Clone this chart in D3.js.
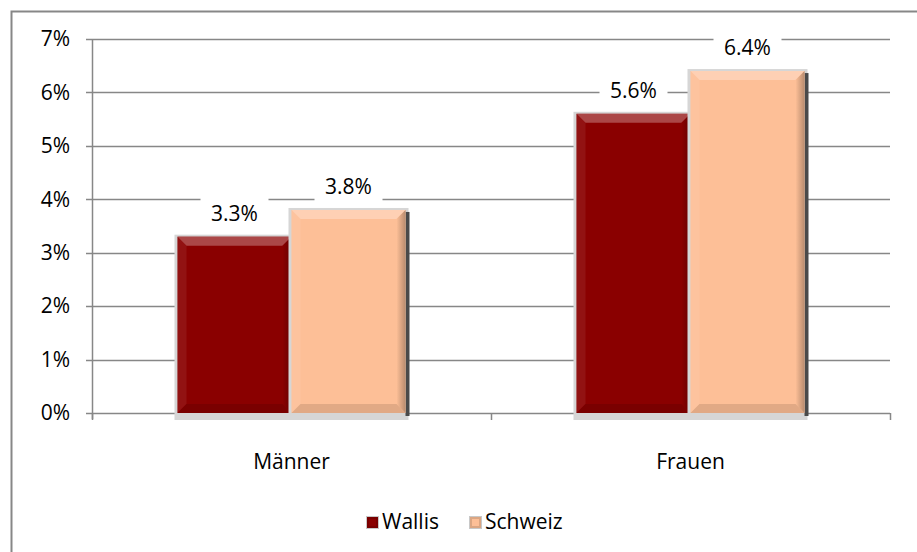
<!DOCTYPE html>
<html>
<head>
<meta charset="utf-8">
<script src="https://cdn.jsdelivr.net/npm/d3@7"></script>
<style>
  body { margin: 0; background: #fff; }
  text { font-family: "Open Sans", sans-serif; fill: #000; }
</style>
</head>
<body>
<div id="chart"></div>
<script>
// data
var categories = ["Männer", "Frauen"];
var seriesNames = ["Wallis", "Schweiz"];
var wallis = [3.3, 5.6];
var schweiz = [3.8, 6.4];
var yTicks = [0, 1, 2, 3, 4, 5, 6, 7];
var colors = ["#8a0000", "#fdbf97"];

var W = 917, H = 552;
var margin = { top: 39, right: 27, bottom: 139, left: 92 },
    width = W - margin.left - margin.right,
    height = H - margin.top - margin.bottom;
var fs = "21px";

var svg = d3.select("#chart")
    .append("svg")
    .attr("width", W)
    .attr("height", H);

// outer frame
svg.append("rect")
    .attr("x", 11.5).attr("y", 11.5)
    .attr("width", W + 10).attr("height", H + 10)
    .attr("fill", "none")
    .attr("stroke", "#878787")
    .attr("stroke-width", 2);

var g = svg.append("g")
    .attr("transform", "translate(" + margin.left + "," + margin.top + ")");

var x = d3.scaleBand().domain(categories).range([0, width]);
var xs = d3.scaleBand().domain(seriesNames)
    .range([0, x.bandwidth()])
    .paddingInner(0)
    .paddingOuter(0.75);
var y = d3.scaleLinear().domain([0, 7]).range([height, 0]);

// gridlines
g.selectAll(".grid")
    .data(yTicks)
    .enter().append("line")
    .attr("x1", -6).attr("x2", width)
    .attr("y1", function (d) { return Math.round(y(d)) + 0.5; })
    .attr("y2", function (d) { return Math.round(y(d)) + 0.5; })
    .attr("stroke", "#878787")
    .attr("stroke-width", 1.5);

// y axis line
g.append("line")
    .attr("x1", 0.5).attr("x2", 0.5)
    .attr("y1", 0).attr("y2", height + 6)
    .attr("stroke", "#878787").attr("stroke-width", 1.5);

// y tick labels
g.selectAll(".ylab")
    .data(yTicks)
    .enter().append("text")
    .attr("x", -22)
    .attr("y", function (d) { return y(d); })
    .attr("dy", "0.35em")
    .attr("text-anchor", "end")
    .style("font-size", fs)
    .text(function (d) { return d + "%"; });

// x tick marks
var xTickPos = [0].concat(categories.map(function (c) { return x(c) + x.bandwidth(); }));
g.selectAll(".xtick")
    .data(xTickPos)
    .enter().append("line")
    .attr("x1", function (d) { return Math.round(d) + 0.5; })
    .attr("x2", function (d) { return Math.round(d) + 0.5; })
    .attr("y1", height).attr("y2", height + 7)
    .attr("stroke", "#878787").attr("stroke-width", 1.5);

// category labels
g.selectAll(".xlab")
    .data(categories)
    .enter().append("text")
    .attr("x", function (d) { return x(d) + x.bandwidth() / 2; })
    .attr("y", height + 49)
    .attr("dy", "0.35em")
    .attr("text-anchor", "middle")
    .style("font-size", fs)
    .text(function (d) { return d; });

// build bar records
var bars = [];
categories.forEach(function (c, i) {
    bars.push({ cat: c, s: "Wallis", v: wallis[i], color: colors[0] });
    bars.push({ cat: c, s: "Schweiz", v: schweiz[i], color: colors[1] });
});

// gradients for the right side bevel
var defs = svg.append("defs");
colors.forEach(function (c, i) {
    var gr = defs.append("linearGradient")
        .attr("id", "rgrad" + i)
        .attr("x1", "0").attr("x2", "1").attr("y1", "0").attr("y2", "0");
    gr.append("stop").attr("offset", "0").attr("stop-color", c);
    gr.append("stop").attr("offset", "1").attr("stop-color", d3.color(c).darker(1).toString());
});

function bevel(sel, bx, by, bw, bh, color, idx, b) {
    var base = d3.color(color);
    var light = d3.interpolateRgb(color, "#ffffff");
    // shadow
    sel.append("rect")
        .attr("x", bx - 3).attr("y", by - 2)
        .attr("width", bw + 6).attr("height", bh + 9)
        .attr("fill", "#d6d6d6");
    sel.append("rect")
        .attr("x", bx + bw).attr("y", by + 2)
        .attr("width", 4).attr("height", bh + 1)
        .attr("fill", "#4a4a4a");
    sel.append("rect")
        .attr("x", bx).attr("y", by)
        .attr("width", bw).attr("height", bh)
        .attr("fill", color);
    var x0 = bx, x1 = bx + bw, y0 = by, y1 = by + bh;
    var bb = Math.min(b, bh / 2);
    var faces = [
        { pts: [[x0, y0], [x1, y0], [x1 - bb, y0 + bb], [x0 + bb, y0 + bb]], c: light(0.35), o: 0.8 },
        { pts: [[x0, y0], [x0 + bb, y0 + bb], [x0 + bb, y1 - bb], [x0, y1]], c: light(0.2), o: 0.35 },
        { pts: [[x1, y0], [x1, y1], [x1 - bb, y1 - bb], [x1 - bb, y0 + bb]], c: "url(#rgrad" + idx + ")", o: 0.9 },
        { pts: [[x0, y1], [x0 + bb, y1 - bb], [x1 - bb, y1 - bb], [x1, y1]], c: base.darker(0.5), o: 0.7 }
    ];
    sel.selectAll(null)
        .data(faces)
        .enter().append("polygon")
        .attr("points", function (f) { return f.pts.map(function (p) { return p.join(","); }).join(" "); })
        .attr("fill", function (f) { return f.c; })
        .attr("opacity", function (f) { return f.o; });
}

var barG = g.selectAll(".bar")
    .data(bars)
    .enter().append("g")
    .attr("class", "bar");

barG.each(function (d) {
    var bx = x(d.cat) + xs(d.s);
    var by = y(d.v);
    bevel(d3.select(this), bx, by, xs.bandwidth(), y(0) - by, d.color, seriesNames.indexOf(d.s), 9);
});

// value labels with white background
var lab = g.selectAll(".vlab")
    .data(bars)
    .enter().append("g")
    .attr("transform", function (d) {
        return "translate(" + (x(d.cat) + xs(d.s) + xs.bandwidth() / 2) + "," + (y(d.v) - 23) + ")";
    });
lab.append("rect")
    .attr("x", -34).attr("y", -16)
    .attr("width", 68).attr("height", 32)
    .attr("fill", "#fff");
lab.append("text")
    .attr("text-anchor", "middle")
    .attr("dy", "0.35em")
    .style("font-size", fs)
    .text(function (d) { return d.v.toFixed(1) + "%"; });

// legend
var legend = svg.append("g")
    .attr("transform", "translate(366,514)");
var legX = [0, 103];
var li = legend.selectAll(".leg")
    .data(seriesNames)
    .enter().append("g")
    .attr("transform", function (d, i) { return "translate(" + legX[i] + ",0)"; });
li.each(function (d, i) {
    var s = d3.select(this);
    s.append("rect").attr("x", 0).attr("y", 2).attr("width", 13).attr("height", 13)
        .attr("fill", "#c8c8c8");
    var base = d3.color(colors[i]);
    s.append("rect").attr("x", 1).attr("y", 3).attr("width", 11).attr("height", 11)
        .attr("fill", base.darker(0.4));
    s.append("rect").attr("x", 3).attr("y", 5).attr("width", 7).attr("height", 7)
        .attr("fill", colors[i]);
    s.append("text")
        .attr("x", 16).attr("y", 8)
        .attr("dy", "0.35em")
        .style("font-size", fs)
        .text(d);
});
</script>
</body>
</html>
